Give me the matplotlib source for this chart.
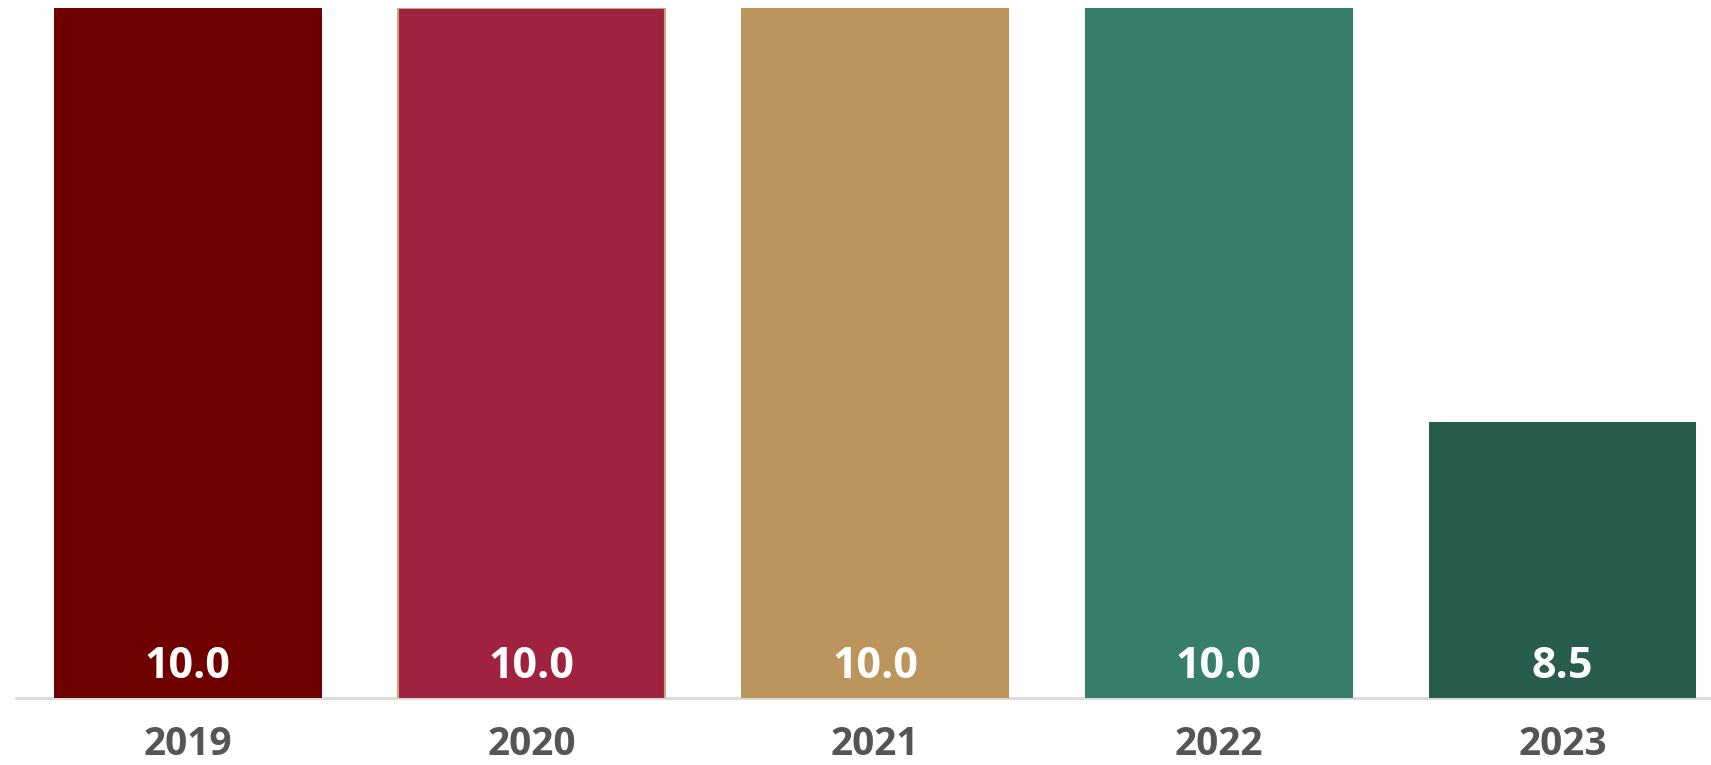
import matplotlib.pyplot as plt

years = ['2019', '2020', '2021', '2022', '2023']
values = [10.0, 10.0, 10.0, 10.0, 8.5]
colors = ['#6e0000', '#9f2241', '#bc955c', '#387f6b', '#285c4d']
edges = ['#6e0000', '#c9a87c', '#bc955c', '#387f6b', '#285c4d']
edge_widths = [0, 1.5, 0, 0, 0]

W, H = 1711, 765
fig = plt.figure(figsize=(W / 100, H / 100), dpi=100)
fig.patch.set_facecolor('white')

# eje: de x=16 a 1711 px, de y=8 a 698 px
ax = fig.add_axes([16 / W, (H - 698) / H, (W - 16) / W, 690 / H])
ax.set_facecolor('none')

x = range(len(years))
ax.bar(x, values, width=0.778, color=colors, edgecolor=edges,
       linewidth=edge_widths, zorder=2)

ax.set_xlim(-0.5, 4.432)
ax.set_ylim(7.5, 10.0)

for i, v in enumerate(values):
    ax.annotate(f'{v:.1f}', (i, 7.5), xytext=(0, 31), textcoords='offset pixels',
                ha='center', va='center', color='white', fontsize=31,
                fontweight='bold', family='Open Sans', zorder=3)
    # años debajo del eje, pegados al borde inferior
    ax.annotate(years[i], (i, 7.5), xytext=(0, -57), textcoords='offset pixels',
                ha='center', va='baseline', color='#555555', fontsize=28,
                fontweight='bold', family='Open Sans', annotation_clip=False)

for s in ['top', 'right', 'left']:
    ax.spines[s].set_visible(False)
ax.spines['bottom'].set_color('#d9d9d9')
ax.spines['bottom'].set_linewidth(2)
ax.spines['bottom'].set_zorder(1)
ax.set_xticks([])
ax.set_yticks([])

fig.savefig('out.png', dpi=100)
